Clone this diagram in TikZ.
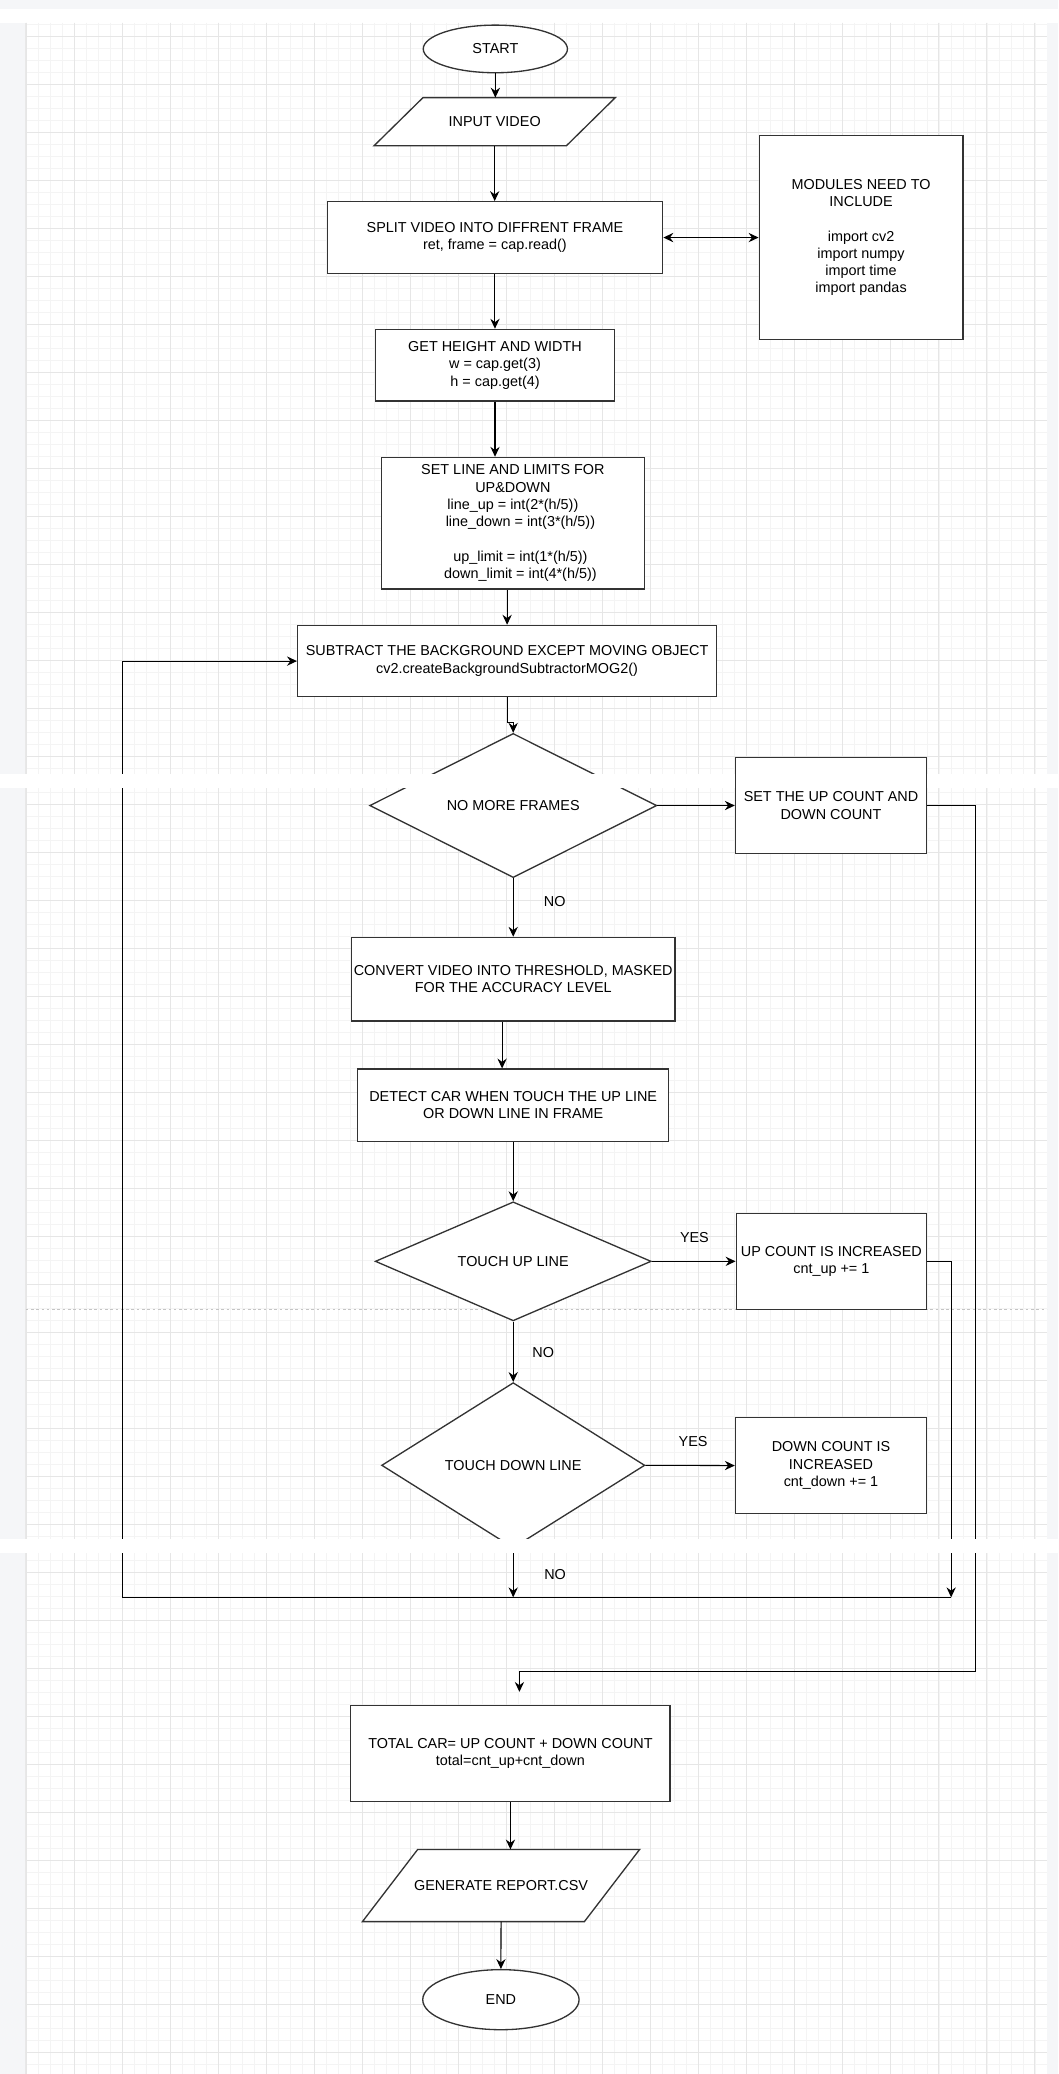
\documentclass[tikz,border=0pt]{standalone}
\usepackage{fontspec}
\setmainfont{Liberation Sans}
\usetikzlibrary{arrows.meta,shapes.geometric,calc}
\definecolor{boxc}{HTML}{333333}
\definecolor{pagegray}{HTML}{F5F6F8}
\definecolor{majorgrid}{HTML}{E6E6E6}
\definecolor{minorgrid}{HTML}{F4F4F4}
\definecolor{breakc}{HTML}{C4C4C4}
\newcommand\flowfont{\fontsize{10.89}{13.07}\selectfont}
\tikzset{
  box/.style={draw=boxc, fill=white, line width=1pt, inner sep=0pt, align=center, font=\flowfont, rectangle},
  ell/.style={draw=boxc, fill=white, line width=1pt, inner sep=0pt, font=\flowfont, ellipse},
  dia/.style={draw=boxc, fill=white, line width=1pt, inner sep=0pt, font=\flowfont, diamond},
  ghost/.style={inner sep=0pt, font=\flowfont, rectangle},
  para/.style={draw=boxc, fill=white, line width=1pt, line join=miter},
  arr/.style={draw=black, line width=0.8pt, -{Stealth[length=7.5pt,width=7pt,inset=2.5pt]}},
  dbl/.style={draw=black, line width=1.4pt, {Stealth[length=7.5pt,width=7pt,inset=2.5pt]}-{Stealth[length=7.5pt,width=7pt,inset=2.5pt]}},
  plainline/.style={draw=black, line width=0.8pt},
  lbl/.style={inner sep=0pt, font=\flowfont},
  minorln/.style={draw=minorgrid, line width=0.6pt},
  majorln/.style={draw=majorgrid, line width=0.7pt},
  band/.style={fill=white, draw=none}
}
\begin{document}
\begin{tikzpicture}[x=1pt,y=-1pt]
\useasboundingbox (0,0) rectangle (800,1568);
% ---------- background ----------
\fill[pagegray] (0,0) rectangle (800,1568);
\fill[white] (0,6.8) rectangle (800,17.1);
\fill[white] (19.4,17.1) rectangle (791.4,1568);
\draw[draw=black!9, line width=0.6pt] (19.4,17.1) -- (19.4,1568);
\foreach \i in {0,...,84} \draw[minorln] ({20.2+9.074*\i},17.1) -- ({20.2+9.074*\i},1568);
\foreach \i in {-1,...,170} \draw[minorln] (19.4,{27.2+9.074*\i}) -- (791.4,{27.2+9.074*\i});
\foreach \i in {0,...,21} \draw[majorln] ({20.2+36.295*\i},17.1) -- ({20.2+36.295*\i},1568);
\foreach \i in {0,...,42} \draw[majorln] (19.4,{27.2+36.295*\i}) -- (791.4,{27.2+36.295*\i});
\draw[draw=breakc, line width=0.7pt, dash pattern=on 2pt off 2pt] (19.4,990) -- (791.4,990);
% ---------- nodes ----------
\node[ell, minimum width=109pt, minimum height=36pt] (start) at (374.5,37) {START};
\node[ghost, minimum width=182pt, minimum height=36pt] (input) at (374,92) {};
\draw[para] ([xshift=37pt]input.north west) -- (input.north east) -- ([xshift=-37pt]input.south east) -- (input.south west) -- cycle;
\node[lbl] at (input.center) {INPUT VIDEO};
\node[box, minimum width=253.6pt, minimum height=54.2pt] (split) at (374.2,179.6)
  {SPLIT VIDEO INTO DIFFRENT FRAME\\ret, frame = cap.read()};
\node[box, minimum width=154pt, minimum height=154pt] (modules) at (651,179.6)
  {MODULES NEED TO\\INCLUDE\\[13.07pt]import cv2\\import numpy\\import time\\import pandas};
\node[box, minimum width=181.1pt, minimum height=54.2pt] (getwh) at (374.25,276.1)
  {GET HEIGHT AND WIDTH\\w = cap.get(3)\\h = cap.get(4)};
\node[box, minimum width=198.9pt, minimum height=99.6pt] (setline) at (387.75,395.6)
  {SET LINE AND LIMITS FOR\\UP\&DOWN\\line\_up = int(2*(h/5))\\\hspace*{11.4pt}line\_down = int(3*(h/5))\\[13.07pt]\hspace*{11.4pt}up\_limit = int(1*(h/5))\\\hspace*{11.4pt}down\_limit = int(4*(h/5))};
\node[box, minimum width=316.8pt, minimum height=54pt] (subtract) at (383.4,499.8)
  {SUBTRACT THE BACKGROUND EXCEPT MOVING OBJECT\\cv2.createBackgroundSubtractorMOG2()};
\node[dia, minimum width=217pt, minimum height=109pt, aspect=2] (nomore) at (388,609) {NO MORE FRAMES};
\node[box, minimum width=244.4pt, minimum height=63.3pt] (convert) at (388,740.35)
  {CONVERT VIDEO INTO THRESHOLD, MASKED\\FOR THE ACCURACY LEVEL};
\node[box, minimum width=235.2pt, minimum height=54.5pt] (detect) at (388,835.55)
  {DETECT CAR WHEN TOUCH THE UP LINE\\OR DOWN LINE IN FRAME};
\node[dia, minimum width=208.6pt, minimum height=90pt, aspect=2.3] (touchup) at (388,953.6) {TOUCH UP LINE};
\node[box, minimum width=143.9pt, minimum height=72.4pt] (upcount) at (628.55,953.6)
  {UP COUNT IS INCREASED\\cnt\_up += 1};
\node[dia, minimum width=199pt, minimum height=125pt, aspect=1.6] (touchdown) at (388,1107.8) {TOUCH DOWN LINE};
\node[box, minimum width=144.5pt, minimum height=72.6pt] (downcount) at (628.25,1108)
  {DOWN COUNT IS\\INCREASED\\cnt\_down += 1};
\node[box, minimum width=241.4pt, minimum height=72.8pt] (total) at (385.9,1325.6)
  {TOTAL CAR= UP COUNT + DOWN COUNT\\total=cnt\_up+cnt\_down};
\node[ghost, minimum width=209.2pt, minimum height=54.2pt] (generate) at (378.8,1425.5) {};
\draw[para] ([xshift=41.8pt]generate.north west) -- (generate.north east) -- ([xshift=-41.8pt]generate.south east) -- (generate.south west) -- cycle;
\node[lbl] at (generate.center) {GENERATE REPORT.CSV};
\node[ell, minimum width=118.2pt, minimum height=45.4pt] (endn) at (378.7,1511.8) {END};
% ---------- labels ----------
\node[lbl] (lno1) at (419.4,681.8) {NO};
\node[lbl] (lyes1) at (525,935.9) {YES};
\node[lbl] (lno2) at (410.7,1022.6) {NO};
\node[lbl] (lyes2) at (524,1090.1) {YES};
\node[lbl] (lno3) at (419.7,1190.2) {NO};
% ---------- coordinates ----------
\coordinate (loopL) at (92.9,1207.6);
\coordinate (loopM) at (388,1207.6);
\coordinate (loopR) at (719.1,1207.6);
\coordinate (r1) at (737.5,1264);
\coordinate (r2) at (392.7,1279.1);
% ---------- connectors ----------
\draw[arr] (start.south) -- (start.south |- input.north);
\draw[arr] (input.south) -- (input.south |- split.north);
\draw[dbl] (split.east) -- (modules.west);
\draw[arr] (split.south) -- (split.south |- getwh.north);
\draw[arr] (getwh.south) -- (getwh.south |- setline.north);
\draw[arr] (subtract.north |- setline.south) -- (subtract.north);
\draw[arr] (subtract.south) -- ++(0,18.7) -| (nomore.north);
\draw[arr] (nomore.south) -- (convert.north);
\draw[arr] ([xshift=-8.4pt]convert.south) -- ([xshift=-8.4pt]detect.north);
\draw[arr] (detect.south) -- (touchup.north);
\draw[arr] (touchup.east) -- (upcount.west);
\draw[arr] (touchup.south) -- (touchdown.north);
\draw[arr] (touchdown.east) -- (downcount.west);
\draw[arr] (touchdown.south) -- (loopM);
\draw[arr] (upcount.east) -| (loopR);
\draw[arr] (loopR) -- (loopL) |- (subtract.west);
\draw[arr] (total.south) -- (total.south |- generate.north);
\draw[arr] (generate.south) -- (endn.north);
% ---------- screenshot seam 1 ----------
\fill[band] (0,584.8) rectangle (800,596.1);
\node[box, minimum width=144.5pt, minimum height=72.6pt] (setcount) at (628.25,609)
  {SET THE UP COUNT AND\\DOWN COUNT};
\draw[arr] (nomore.east) -- (setcount.west);
\draw[arr] (setcount.east) -| (r1) -| (r2);
% ---------- screenshot seam 2 ----------
\fill[band] (0,1163.7) rectangle (800,1174);
\end{tikzpicture}
\end{document}
